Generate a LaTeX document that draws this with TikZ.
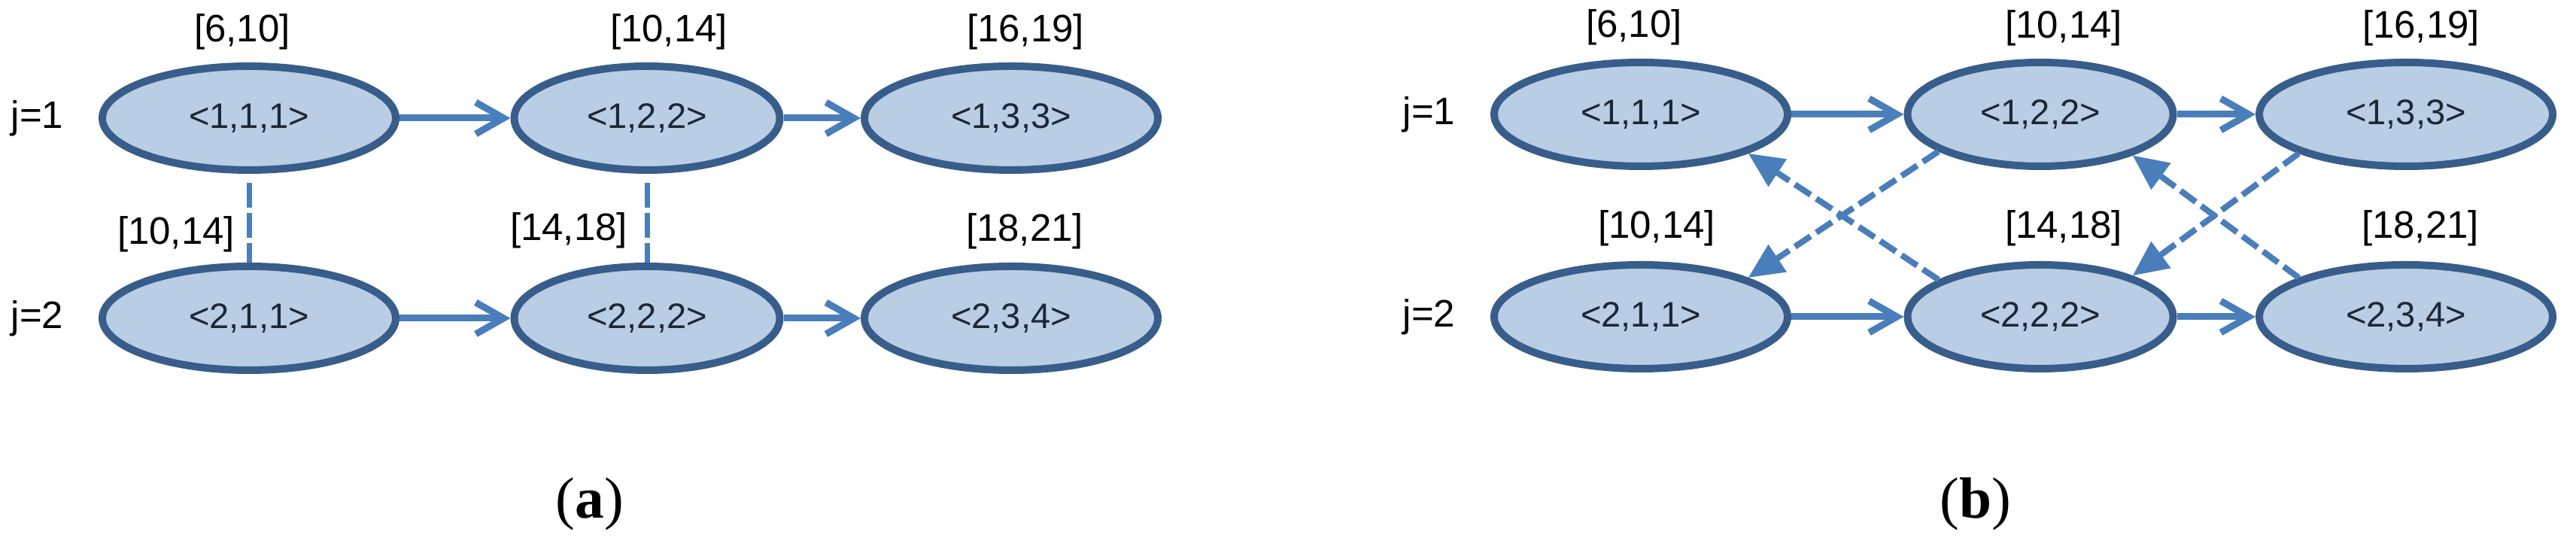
\documentclass[tikz,border=0pt]{standalone}
\usepackage{fontspec}
\setmainfont{Liberation Serif}
\setsansfont{Liberation Sans}
\usetikzlibrary{positioning}
\usetikzlibrary{arrows.meta}
\usetikzlibrary{shapes.geometric}

\definecolor{opfill}{HTML}{B9CDE5}
\definecolor{opdraw}{HTML}{385D8A}
\definecolor{flowblue}{HTML}{4A7EBB}
\definecolor{textnavy}{HTML}{1C2736}

\begin{document}
\begin{tikzpicture}[
	op/.style = {ellipse, draw = opdraw, fill = opfill, line width = 0.10cm, minimum width = 3.90cm, minimum height = 1.38cm, inner sep = 0pt, text = textnavy, font = \sffamily\fontsize{13.4}{16}\selectfont},
	opmid/.style = {op, minimum width = 3.53cm},
	tag/.style = {inner sep = 0pt, font = \sffamily\fontsize{14.5}{17}\selectfont},
	flow/.style = {draw = flowblue, line width = 0.09cm, -{Straight Barb[length = 0.37cm, width = 0.42cm]}},
	link/.style = {draw = flowblue, line width = 0.07cm, dash pattern = on 0.33cm off 0.07cm},
	cross/.style = {draw = flowblue, line width = 0.08cm, dash pattern = on 0.25cm off 0.09cm, -{Triangle[length = 0.47cm, width = 0.42cm]}},
	subcap/.style = {inner sep = 0pt, font = \fontsize{22}{26}\selectfont}
	]
	\path[use as bounding box, fill = white] (0, 0) rectangle (34.24, 7.23);

	% (a)
	\node[op] (a11) at (3.31, 5.66) {<1,1,1>};
	\node[opmid] (a12) at (8.60, 5.66) {<1,2,2>};
	\node[op] (a13) at (13.44, 5.66) {<1,3,3>};
	\node[op] (a21) at (3.31, 3.00) {<2,1,1>};
	\node[opmid] (a22) at (8.60, 3.00) {<2,2,2>};
	\node[op] (a23) at (13.44, 3.00) {<2,3,4>};

	\node[tag, left = 0.46cm of a11] (ja1) {j=1};
	\node[tag, left = 0.46cm of a21] (ja2) {j=2};
	\node[tag, above = 0.16cm of a11, xshift = -0.09cm] (ta11) {[6,10]};
	\node[tag, above = 0.16cm of a12, xshift = 0.29cm] (ta12) {[10,14]};
	\node[tag, above = 0.16cm of a13, xshift = 0.19cm] (ta13) {[16,19]};
	\node[tag, above = 0.13cm of a21, xshift = -0.97cm] (ta21) {[10,14]};
	\node[tag, above = 0.18cm of a22, xshift = -1.04cm] (ta22) {[14,18]};
	\node[tag, above = 0.17cm of a23, xshift = 0.18cm] (ta23) {[18,21]};

	\draw[flow] (a11) -- (a12);
	\draw[flow] (a12) -- (a13);
	\draw[flow] (a21) -- (a22);
	\draw[flow] (a22) -- (a23);
	\draw[link, shorten <= 0.12cm] (a11) -- (a21);
	\draw[link, shorten <= 0.12cm] (a12) -- (a22);

	% (b)
	\node[op] (b11) at (21.81, 5.71) {<1,1,1>};
	\node[opmid] (b12) at (27.12, 5.71) {<1,2,2>};
	\node[op] (b13) at (31.98, 5.71) {<1,3,3>};
	\node[op] (b21) at (21.81, 3.02) {<2,1,1>};
	\node[opmid] (b22) at (27.12, 3.02) {<2,2,2>};
	\node[op] (b23) at (31.98, 3.02) {<2,3,4>};

	\node[tag, left = 0.46cm of b11] (jb1) {j=1};
	\node[tag, left = 0.46cm of b21] (jb2) {j=2};
	\node[tag, above = 0.17cm of b11, xshift = -0.09cm] (tb11) {[6,10]};
	\node[tag, above = 0.16cm of b12, xshift = 0.31cm] (tb12) {[10,14]};
	\node[tag, above = 0.16cm of b13, xshift = 0.20cm] (tb13) {[16,19]};
	\node[tag, above = 0.19cm of b21, xshift = 0.21cm] (tb21) {[10,14]};
	\node[tag, above = 0.19cm of b22, xshift = 0.31cm] (tb22) {[14,18]};
	\node[tag, above = 0.19cm of b23, xshift = 0.19cm] (tb23) {[18,21]};

	\draw[flow] (b11) -- (b12);
	\draw[flow] (b12) -- (b13);
	\draw[flow] (b21) -- (b22);
	\draw[flow] (b22) -- (b23);
	\draw[cross] (b12.200) -- (b21.20);
	\draw[cross] (b22.160) -- (b11.-20);
	\draw[cross] (b13.200) -- (b22.24);
	\draw[cross] (b23.160) -- (b12.-24);

	\node[subcap] (capa) at (7.84, 0.53) {(\textbf{a})};
	\node[subcap] (capb) at (26.26, 0.53) {(\textbf{b})};
\end{tikzpicture}
\end{document}
